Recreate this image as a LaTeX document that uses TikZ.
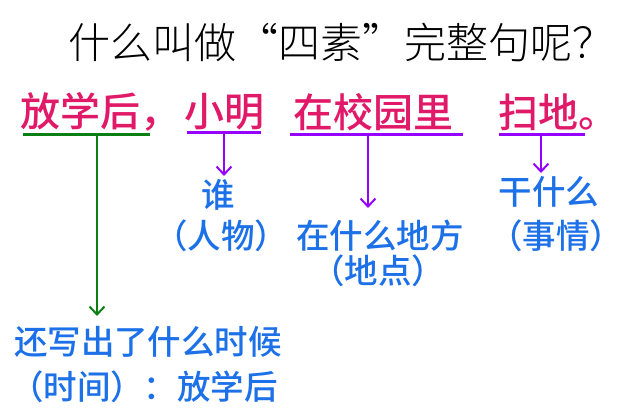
\documentclass[tikz,border=0pt]{standalone}
\usepackage{fontspec}
\setmainfont{Noto Sans CJK SC}
\newfontfamily\cjk{Noto Sans CJK SC}
\newfontfamily\cjkmed{Noto Sans CJK SC Medium}
\newfontfamily\cjklight{Noto Sans CJK SC Light}
\usetikzlibrary{arrows.meta}
\definecolor{redt}{RGB}{225,25,105}
\definecolor{bluet}{RGB}{28,112,232}
\definecolor{purp}{RGB}{150,0,255}
\definecolor{grn}{RGB}{10,128,20}
\tikzset{
  titletext/.style={inner sep=0pt, font=\cjklight\fontsize{42}{44}\selectfont},
  redtext/.style={inner sep=0pt, anchor=west, text=redt, font=\cjkmed\fontsize{40}{42}\selectfont},
  bluetext/.style={inner sep=0pt, text=bluet, font=\cjkmed\fontsize{33.5}{35}\selectfont},
  uline/.style={line width=3pt},
  vline/.style={line width=2pt, -{Straight Barb[length=8pt,width=15pt,line width=2pt]}},
}
\begin{document}
\begin{tikzpicture}[x=1pt,y=-1pt]
\useasboundingbox[fill=white] (0,0) rectangle (640,419);
\node[titletext] (title) at (341,42) {什么叫做“四素”完整句呢？};
\node[redtext] (r1) at (20,112) {放学后，};
\node[redtext] (r2) at (184,112) {小明};
\node[redtext] (r3) at (293,112) {在校园里};
\node[redtext] (r4) at (498,112) {扫地。};
% underlines
\coordinate (g1) at (23,135); \coordinate (g2) at (150,135); \coordinate (gm) at (97,135); \coordinate (ge) at (97,316);
\coordinate (p1a) at (187,133); \coordinate (p1b) at (261,133); \coordinate (p1m) at (224,133); \coordinate (p1e) at (224,176);
\coordinate (p2a) at (290,135); \coordinate (p2b) at (463,135); \coordinate (p2m) at (368,135); \coordinate (p2e) at (368,208);
\coordinate (p3a) at (499,135); \coordinate (p3b) at (585,135); \coordinate (p3m) at (541,135); \coordinate (p3e) at (541,173);
\draw[uline, grn] (g1) -- (g2);
\draw[vline, grn] (gm) -- (ge);
\draw[uline, purp] (p1a) -- (p1b);
\draw[vline, purp] (p1m) -- (p1e);
\draw[uline, purp] (p2a) -- (p2b);
\draw[vline, purp] (p2m) -- (p2e);
\draw[uline, purp] (p3a) -- (p3b);
\draw[vline, purp] (p3m) -- (p3e);
% blue labels
\node[bluetext] (b1) at (218,195) {谁};
\node[bluetext] (b2) at (221,236) {（人物）};
\node[bluetext] (b3) at (380,236) {在什么地方};
\node[bluetext] (b4) at (378,271) {（地点）};
\node[bluetext] (b5) at (549,192) {干什么};
\node[bluetext] (b6) at (556,236) {（事情）};
\node[bluetext] (b7) at (148,342) {还写出了什么时候};
\node[bluetext] (b8) at (144,387) {（时间）：放学后};
\end{tikzpicture}
\end{document}
